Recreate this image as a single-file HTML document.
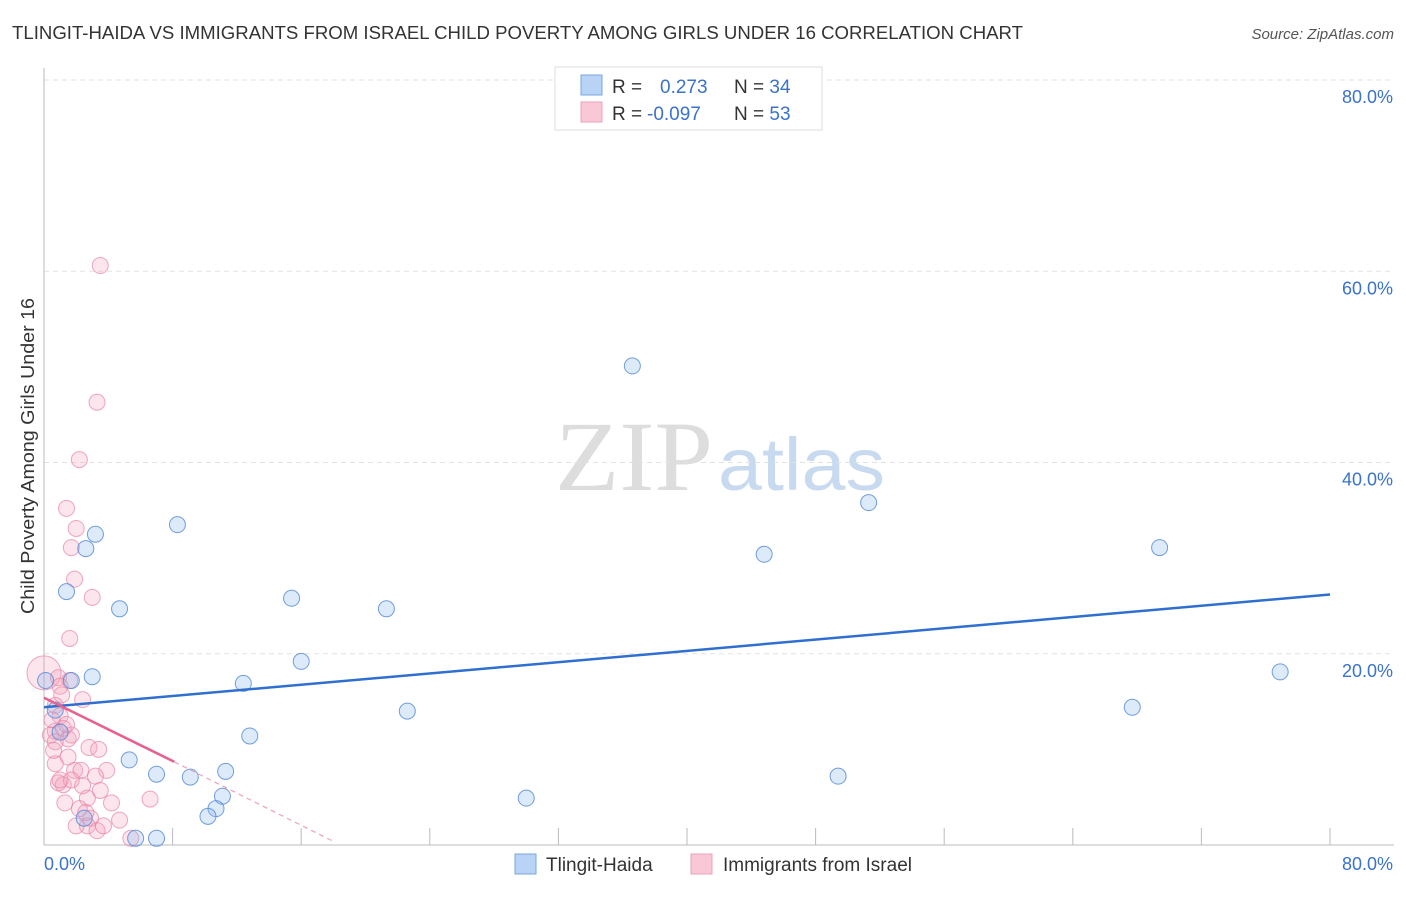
<!DOCTYPE html>
<html><head><meta charset="utf-8"><style>
body{margin:0;background:#fff;font-family:"Liberation Sans",sans-serif;}
</style></head><body>
<svg width="1406" height="892" xmlns="http://www.w3.org/2000/svg" font-family="Liberation Sans, sans-serif">
<text x="12" y="39" font-size="18" fill="#333" textLength="1011" lengthAdjust="spacingAndGlyphs">TLINGIT-HAIDA VS IMMIGRANTS FROM ISRAEL CHILD POVERTY AMONG GIRLS UNDER 16 CORRELATION CHART</text>
<text x="1394" y="39" font-size="15" fill="#555" font-style="italic" text-anchor="end">Source: ZipAtlas.com</text>
<text x="555" y="490" font-size="100" fill="#ddd" font-family="Liberation Serif, serif" textLength="158" lengthAdjust="spacingAndGlyphs">ZIP</text>
<text x="718" y="490" font-size="74" fill="#c8daf0" textLength="167" lengthAdjust="spacingAndGlyphs">atlas</text>
<g id="grid"></g>
<g id="axes"></g>
<g id="pts"></g>
<g id="lines"></g>
<text transform="translate(34,456) rotate(-90)" font-size="18" fill="#333" text-anchor="middle" textLength="316" lengthAdjust="spacingAndGlyphs">Child Poverty Among Girls Under 16</text>
<text x="44" y="870" font-size="18" fill="#3a72cc">0.0%</text>
<text x="1393" y="870" font-size="18" fill="#3a72cc" text-anchor="end">80.0%</text>
<g>
<rect x="555" y="67" width="267" height="63" fill="#fff" stroke="#ddd"/>
<rect x="581" y="75" width="21" height="20" fill="#b8d3f5" stroke="#7aa6e0"/>
<rect x="581" y="102" width="21" height="20" fill="#f9c8d6" stroke="#eea0b8"/>
<text x="612" y="93" font-size="19" fill="#333">R = <tspan fill="#3a72cc" x="660">0.273</tspan><tspan fill="#333" x="734">N = </tspan><tspan fill="#3a72cc">34</tspan></text>
<text x="612" y="120" font-size="19" fill="#333">R = <tspan fill="#3a72cc" x="647">-0.097</tspan><tspan fill="#333" x="734">N = </tspan><tspan fill="#3a72cc">53</tspan></text>
</g>
<g>
<rect x="515" y="854" width="21" height="20" fill="#b8d3f5" stroke="#7aa6e0"/>
<text x="546" y="871" font-size="19" fill="#333">Tlingit-Haida</text>
<rect x="691" y="854" width="21" height="20" fill="#f9c8d6" stroke="#eea0b8"/>
<text x="723" y="871" font-size="19" fill="#333">Immigrants from Israel</text>
</g>
</svg>
<script>
const yTicks=[20,40,60,80];
const yTickLabels=["20.0%","40.0%","60.0%","80.0%"];
const xTicks=[0,8,16,24,32,40,48,56,64,72,80];
const blueX=[36.6,51.3,69.4,44.8,8.3,3.2,2.6,1.4,4.7,15.4,21.3,16.0,12.4,76.9,3.0,1.7,22.6,67.7,0.7,12.8,1.0,5.3,7.0,9.1,11.3,49.4,30.0,11.1,10.7,10.2,2.5,5.7,7.0,0.1];
const blueY=[50.1,35.8,31.1,30.4,33.5,32.5,31.0,26.5,24.7,25.8,24.7,19.2,16.9,18.1,17.6,17.2,14.0,14.4,14.1,11.4,11.8,8.9,7.4,7.1,7.7,7.2,4.9,5.1,3.8,3.0,2.8,0.7,0.7,17.2];
const pinkX=[3.5,3.3,2.2,1.4,2.0,1.7,1.9,3.0,1.6,0.0,0.9,1.6,2.4,1.0,0.7,1.0,1.2,0.7,0.4,1.5,0.7,2.8,3.4,1.5,1.9,2.3,3.9,3.2,0.9,1.2,1.7,2.4,2.7,1.3,4.2,6.6,2.2,2.9,4.7,2.7,3.3,3.7,5.4,2.0,0.7,1.0,1.7,1.1,0.5,2.6,3.5,0.6,1.4];
const pinkY=[60.6,46.3,40.3,35.2,33.1,31.1,27.8,25.9,21.6,18.0,17.5,17.2,15.2,16.6,14.6,13.5,12.2,11.9,11.5,11.1,10.8,10.2,10.0,9.2,7.8,7.8,7.8,7.2,6.5,6.3,6.8,6.2,4.9,4.4,4.4,4.8,3.8,2.8,2.6,2.0,1.5,2.0,0.7,2.0,8.5,6.8,11.5,15.7,13.1,3.4,5.7,9.9,12.6];
const blueTrend=[[0,14.4],[80,26.2]];
const pinkTrendSolid=[[0,15.4],[8.1,8.7]];
const pinkTrendDash=[[8.1,8.7],[18.1,0.3]];
const sx=v=>44+v*16.075, sy=v=>845-v*9.5625;
const NS="http://www.w3.org/2000/svg";
function mk(tag,attrs,parent){const e=document.createElementNS(NS,tag);for(const k in attrs)e.setAttribute(k,attrs[k]);document.getElementById(parent).appendChild(e);return e;}
yTicks.forEach((t,i)=>{
 const l=mk('line',{x1:44,x2:1394,y1:sy(t),y2:sy(t),stroke:'#e2e2e2','stroke-dasharray':'5,4'},'grid');
 
 
 const tx=mk('text',{x:1393,y:sy(t)+23,'font-size':18,fill:'#3a72cc','text-anchor':'end'},'grid');
 tx.textContent=yTickLabels[i];
 
 
});
let a=mk('line',{x1:44,x2:44,y1:68,y2:845,stroke:'#bbb'},'axes');


a=mk('line',{x1:44,x2:1394,y1:845,y2:845,stroke:'#bbb'},'axes');


xTicks.forEach(t=>{const l=mk('line',{x1:sx(t),x2:sx(t),y1:828,y2:845,stroke:'#bbb'},'axes');
 
 });
pinkX.forEach((x,i)=>{const c=mk('circle',{cx:sx(x),cy:sy(pinkY[i]),r:(i==9?17:8),fill:'rgba(245,160,185,0.28)',stroke:'rgba(232,130,165,0.7)','stroke-width':1},'pts');
 
 });
blueX.forEach((x,i)=>{const c=mk('circle',{cx:sx(x),cy:sy(blueY[i]),r:8,fill:'rgba(140,185,240,0.3)',stroke:'rgba(80,135,215,0.8)','stroke-width':1},'pts');
 
 });
function ln(p,st,w,dash,name){const l=mk('line',{x1:sx(p[0][0]),y1:sy(p[0][1]),x2:sx(p[1][0]),y2:sy(p[1][1]),stroke:st,'stroke-width':w},'lines');if(dash)l.setAttribute('stroke-dasharray',dash);
 
 }
ln(blueTrend,'#2f6fd0',2.5,null,'tlingit-haida-trendline');
ln(pinkTrendSolid,'#e8608c',2.5,null,'immigrants-israel-trendline');
ln(pinkTrendDash,'#eea0b8',1.2,'5,4','immigrants-israel-trendline-extension');
</script>
</body></html>
